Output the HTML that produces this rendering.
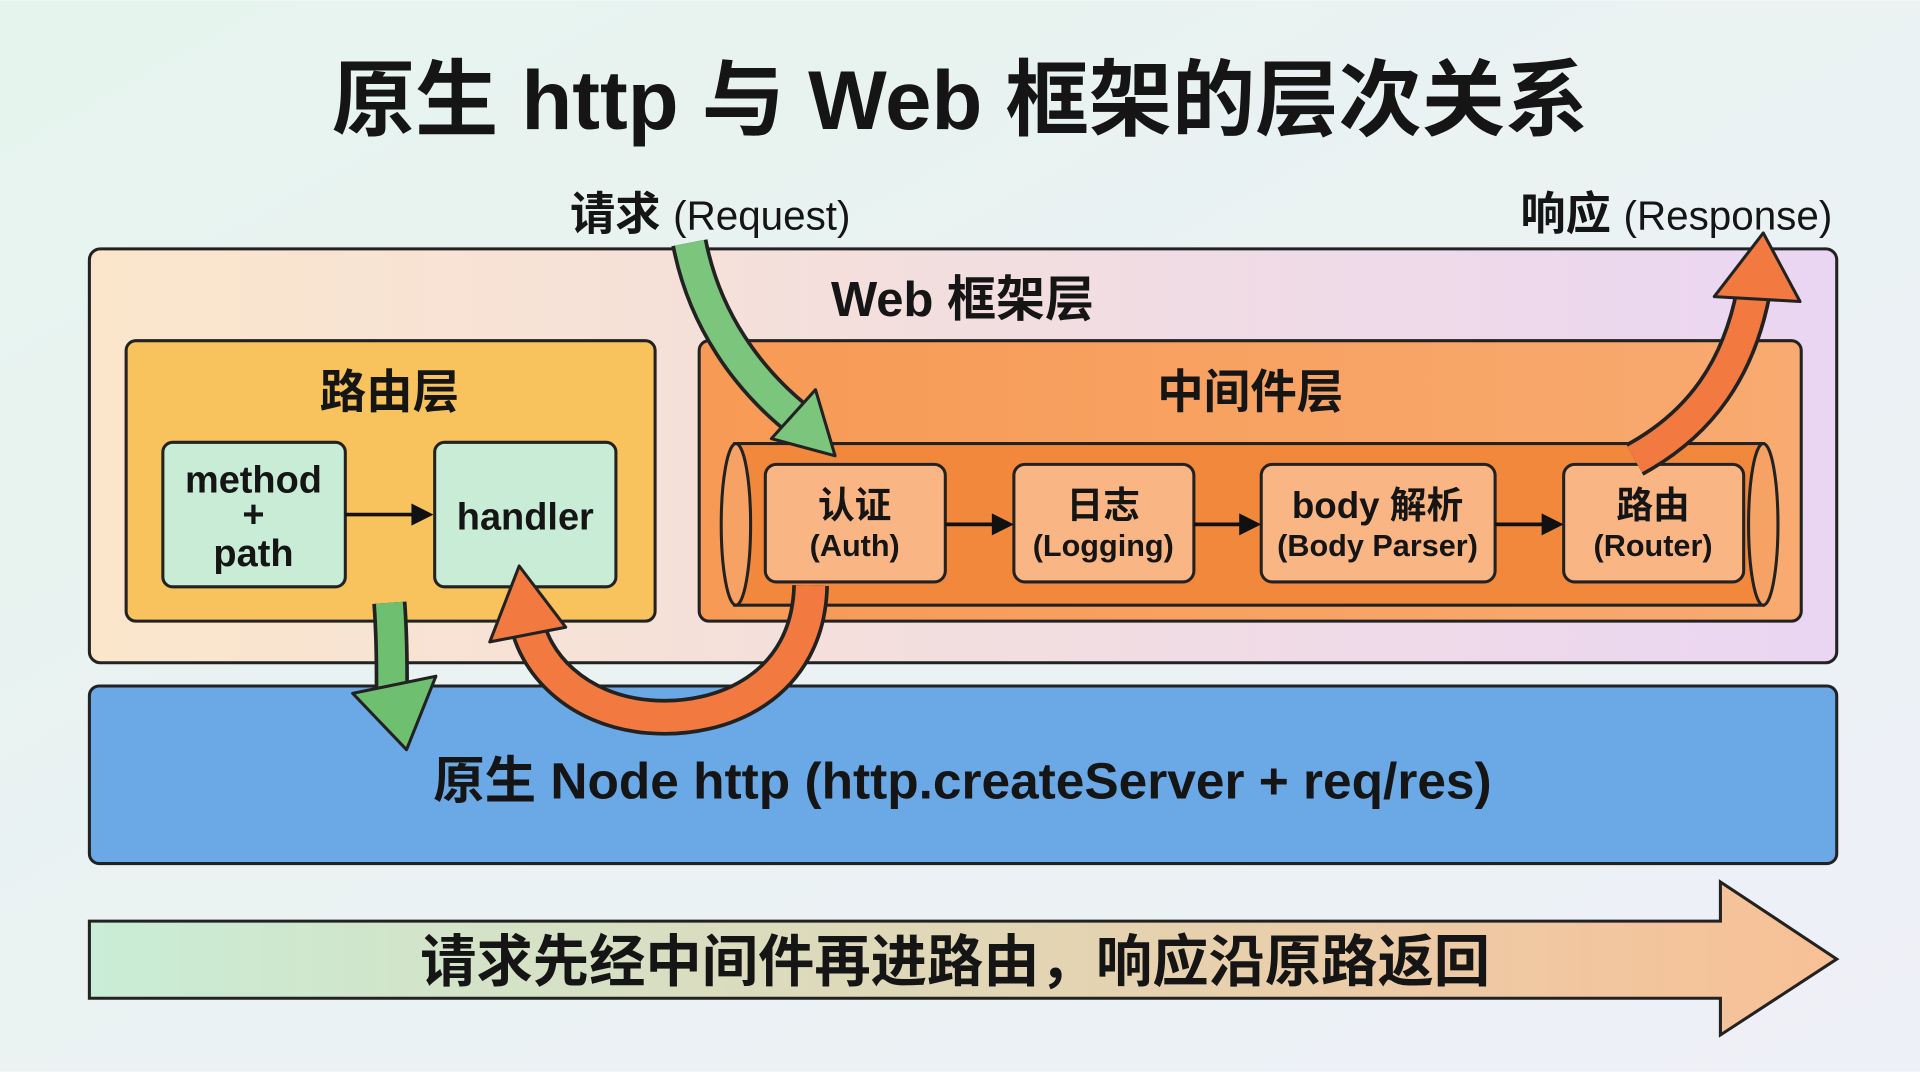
<!DOCTYPE html>
<html><head><meta charset="utf-8"><style>
html,body{margin:0;padding:0;width:1920px;height:1072px;overflow:hidden}
svg{display:block}
text{font-family:"Liberation Sans","Noto Sans CJK SC",sans-serif;fill:#151515;text-anchor:middle}
</style></head><body>
<svg width="1920" height="1072" viewBox="0 0 1568 875" xmlns="http://www.w3.org/2000/svg">
<defs>
<linearGradient id="bg" x1="0" y1="0" x2="1" y2="1"><stop offset="0" stop-color="#e6f4ee"/><stop offset="1" stop-color="#eef0f7"/></linearGradient>
<linearGradient id="web" x1="0" x2="1"><stop offset="0" stop-color="#fbe6cc"/><stop offset="1" stop-color="#ead6f2"/></linearGradient>
<linearGradient id="mid" x1="0" x2="1"><stop offset="0" stop-color="#f79a55"/><stop offset="1" stop-color="#f8aa70"/></linearGradient>
<linearGradient id="bot" x1="0" x2="1"><stop offset="0" stop-color="#c9edd6"/><stop offset="1" stop-color="#f8c096"/></linearGradient>
</defs>
<rect width="1568" height="875" fill="url(#bg)"/>
<text x="784" y="105" font-size="68" font-weight="bold">原生 http 与 Web 框架的层次关系</text>
<text x="580" y="187" font-size="37" font-weight="bold">请求 <tspan font-size="33" font-weight="normal">(Request)</tspan></text>
<text x="1369" y="187" font-size="37" font-weight="bold">响应 <tspan font-size="33" font-weight="normal">(Response)</tspan></text>

<rect x="73" y="203" width="1427" height="338" rx="9" fill="url(#web)" stroke="#222" stroke-width="2.5"/>
<text x="786" y="258" font-size="40" font-weight="bold">Web 框架层</text>

<rect x="103" y="278" width="432" height="229" rx="8" fill="#f8c25c" stroke="#222" stroke-width="2.5"/>
<text x="318" y="333" font-size="38" font-weight="bold">路由层</text>
<rect x="133" y="361" width="149" height="118" rx="8" fill="#c8ecd5" stroke="#222" stroke-width="2.5"/>
<g font-weight="bold">
<text x="207" y="402" font-size="31">method</text>
<text x="207" y="430" font-size="31">+</text>
<text x="207" y="462" font-size="31">path</text>
</g>
<line x1="282" y1="420" x2="340" y2="420" stroke="#111" stroke-width="3"/>
<polygon points="354,420 336,411 336,429" fill="#111"/>
<rect x="355" y="361" width="148" height="118" rx="8" fill="#c8ecd5" stroke="#222" stroke-width="2.5"/>
<text x="429" y="432" font-size="31" font-weight="bold">handler</text>

<rect x="571" y="278" width="900" height="229" rx="8" fill="url(#mid)" stroke="#222" stroke-width="2.5"/>
<text x="1021" y="333" font-size="38" font-weight="bold">中间件层</text>
<rect x="600" y="362" width="840" height="132" fill="#f2883c" stroke="#222" stroke-width="2.5"/>
<ellipse cx="1440" cy="428" rx="12" ry="66" fill="#f6a264" stroke="#222" stroke-width="2.5"/>
<ellipse cx="601" cy="428" rx="12" ry="66" fill="#f6a264" stroke="#222" stroke-width="2.5"/>

<g stroke="#222" stroke-width="2.5" fill="#f9b583">
<rect x="625" y="379" width="147" height="96" rx="9"/>
<rect x="828" y="379" width="147" height="96" rx="9"/>
<rect x="1030" y="379" width="191" height="96" rx="9"/>
<rect x="1277" y="379" width="147" height="96" rx="9"/>
</g>
<g font-size="30" font-weight="bold">
<text x="698" y="423">认证</text><text x="698" y="454" font-size="25">(Auth)</text>
<text x="901" y="423">日志</text><text x="901" y="454" font-size="25">(Logging)</text>
<text x="1125" y="423">body 解析</text><text x="1125" y="454" font-size="25">(Body Parser)</text>
<text x="1350" y="423">路由</text><text x="1350" y="454" font-size="25">(Router)</text>
</g>
<g stroke="#111" stroke-width="3">
<line x1="772" y1="428" x2="812" y2="428"/><line x1="975" y1="428" x2="1014" y2="428"/><line x1="1221" y1="428" x2="1261" y2="428"/>
</g>
<g fill="#111">
<polygon points="828,428 810,419 810,437"/><polygon points="1030,428 1012,419 1012,437"/><polygon points="1277,428 1259,419 1259,437"/>
</g>

<rect x="73" y="560" width="1427" height="145" rx="8" fill="#6aa8e6" stroke="#222" stroke-width="2.5"/>
<text x="786" y="652" font-size="42" font-weight="bold">原生 Node http (http.createServer + req/res)</text>

<path d="M563,198 C575,260 610,310 655,345" fill="none" stroke="#222" stroke-width="30"/>
<path d="M563,198 C575,260 610,310 655,345" fill="none" stroke="#7cc57c" stroke-width="24"/>
<polygon points="630,358 682,372 666,318" fill="#7cc57c" stroke="#222" stroke-width="2.5" stroke-linejoin="round"/>
<path d="M318,492 C320,520 320,545 320,570" fill="none" stroke="#222" stroke-width="28"/>
<path d="M318,492 C320,520 320,545 320,570" fill="none" stroke="#6fbf70" stroke-width="22"/>
<polygon points="288,566 356,552 332,612" fill="#6fbf70" stroke="#222" stroke-width="2.5" stroke-linejoin="round"/>
<path d="M662,478 C660,560 590,590 530,585 C470,580 435,540 430,505" fill="none" stroke="#222" stroke-width="30"/>
<path d="M662,478 C660,560 590,590 530,585 C470,580 435,540 430,505" fill="none" stroke="#f27a40" stroke-width="24"/>
<polygon points="400,524 462,512 424,462" fill="#f27a40" stroke="#222" stroke-width="2.5" stroke-linejoin="round"/>
<path d="M1335,375 C1390,345 1420,300 1432,238" fill="none" stroke="#222" stroke-width="30"/>
<path d="M1335,375 C1390,345 1420,300 1432,238" fill="none" stroke="#f27a40" stroke-width="24"/>
<polygon points="1400,242 1470,246 1440,190" fill="#f27a40" stroke="#222" stroke-width="2.5" stroke-linejoin="round"/>

<polygon points="73,752 1405,752 1405,720 1500,783 1405,845 1405,815 73,815" fill="url(#bot)" stroke="#222" stroke-width="2.5"/>
<text x="780" y="801" font-size="46" font-weight="bold">请求先经中间件再进路由，响应沿原路返回</text>
</svg>
</body></html>
